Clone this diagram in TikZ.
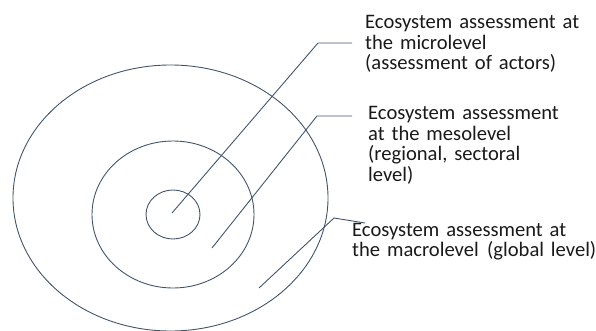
\documentclass[tikz,border=0pt]{standalone}
\usepackage{fontspec}
\setmainfont{Carlito}
\usetikzlibrary{shapes.geometric}
\definecolor{linec}{HTML}{44546A}
\definecolor{txt}{HTML}{1A1A1A}
\begin{document}
\begin{tikzpicture}[x=1pt,y=-1pt,
  ring/.style={draw=linec, line width=0.9pt, ellipse, inner sep=0pt, outer sep=0pt},
  lbl/.style={anchor=base west, inner sep=0pt, text width=300pt, align=left, text=txt,
              font=\fontsize{20.6}{20.5}\selectfont},
  lead/.style={draw=linec, line width=0.9pt, line join=round}]
\useasboundingbox (0,0) rectangle (596,331);
% rings
\node[ring, minimum width=315pt, minimum height=266pt] (outer) at (170.5,198) {};
\node[ring, minimum width=162pt, minimum height=147pt] (middle) at (173,214.5) {};
\node[ring, minimum width=54pt, minimum height=49pt] (inner) at (173,214.5) {};
% labels
\node[lbl] (micro) at (365,29) {Ecosystem assessment at\\the microlevel\\(assessment of actors)};
\node[lbl] (meso) at (368,120) {Ecosystem assessment\\at the mesolevel\\(regional, sectoral\\level)};
\node[lbl] (macro) at (352,236) {Ecosystem assessment at\\the macrolevel\hspace{1.5pt} (global level)};
% leader points
\coordinate (s1) at (172,213);
\coordinate (e1) at (318,43);
\coordinate (t1) at (352,43);
\coordinate (s2) at (212,248);
\coordinate (e2) at (317,116);
\coordinate (t2) at (352,116);
\coordinate (s3) at (259,288);
\coordinate (e3) at (334,218);
\coordinate (t3) at (365,223);
\draw[lead] (s1) -- (e1) -- (t1);
\draw[lead] (s2) -- (e2) -- (t2);
\draw[lead] (s3) -- (e3) -- (t3);
\end{tikzpicture}
\end{document}
